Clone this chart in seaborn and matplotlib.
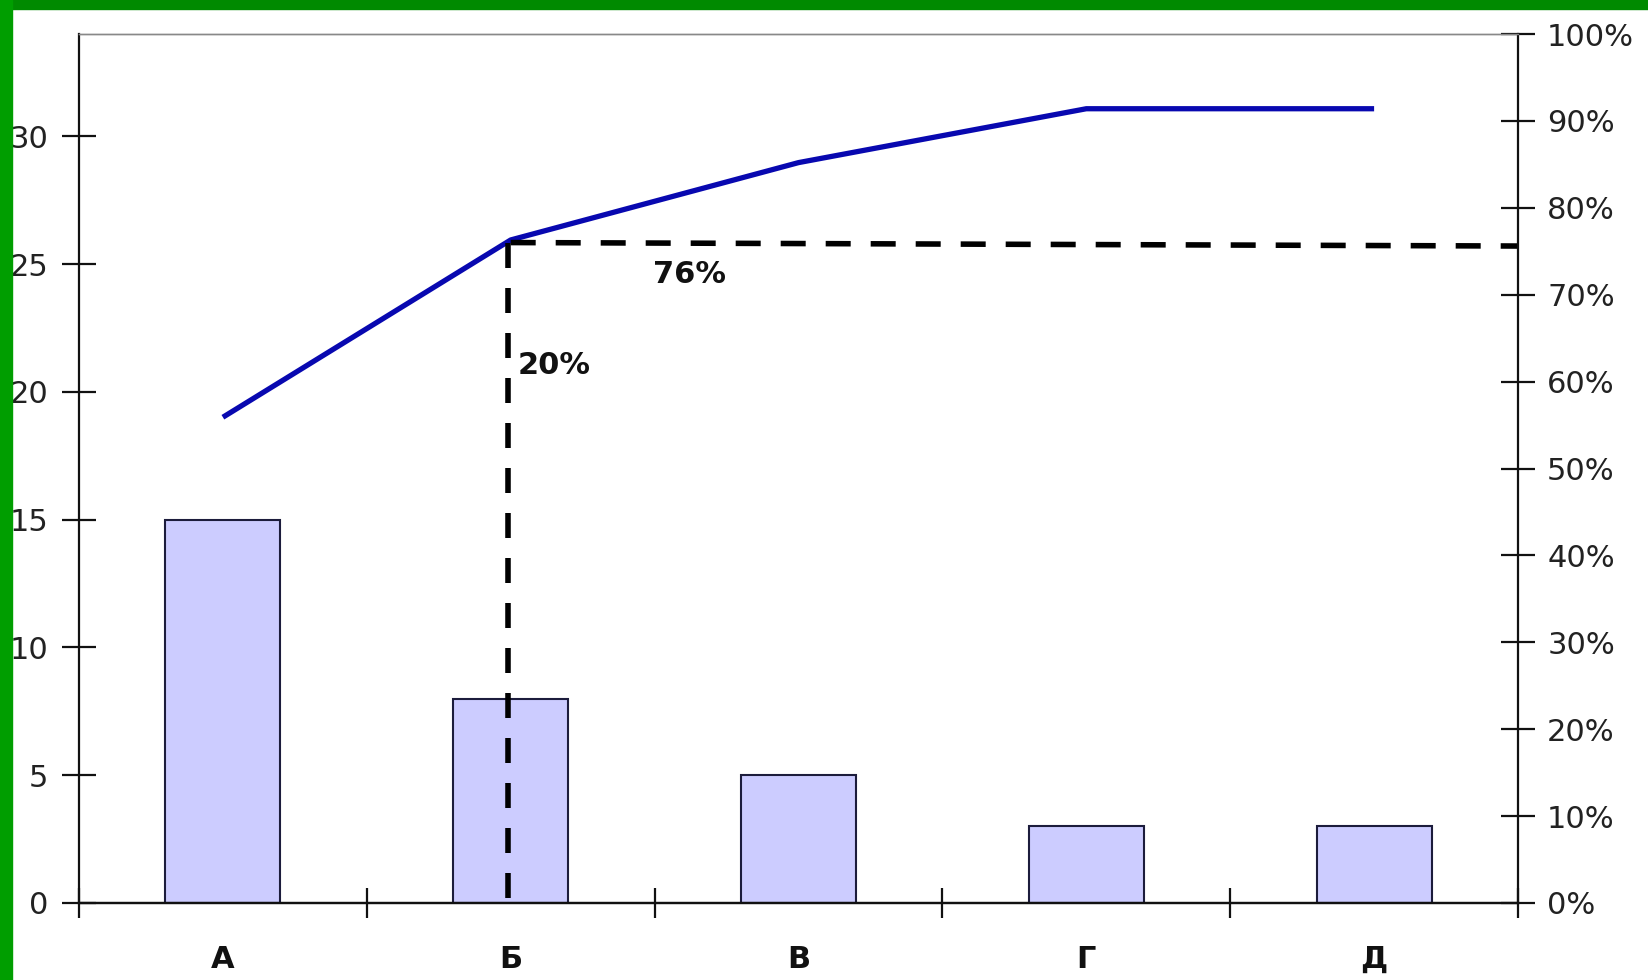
import numpy as np
import pandas as pd
import matplotlib
matplotlib.use("Agg")
import matplotlib.pyplot as plt
from matplotlib.patches import Rectangle
from matplotlib.ticker import FixedLocator, PercentFormatter
import seaborn as sns

categories = ["А", "Б", "В", "Г", "Д"]
counts = [15, 8, 5, 3, 3]
cum_pct = [55.9, 76.3, 85.2, 91.4, 91.4]
left_ticks = [0, 5, 10, 15, 20, 25, 30]
right_ticks = [0, 10, 20, 30, 40, 50, 60, 70, 80, 90, 100]
guide_pct = 76
label_76 = "76%"
label_20 = "20%"

sns.set_theme(style="white")
plt.rcParams["font.family"] = ["DejaVu Sans"]

fig = plt.figure(figsize=(16.48, 9.80), dpi=100)
fig.patch.set_facecolor("white")
ax = fig.add_axes([79 / 1648, 1 - 903 / 980, (1518 - 79) / 1648, (903 - 34) / 980])

df = pd.DataFrame({"cat": categories, "n": counts})
sns.barplot(data=df, x="cat", y="n", ax=ax, color="#CCCCFF", saturation=1,
            width=0.4, edgecolor="#1c1c3c", linewidth=1.5)
ax.set_xlim(-0.5, 4.5)
ax.set_ylim(0, sum(counts))
ax.set_xlabel("")
ax.set_ylabel("")

ax2 = ax.twinx()
x_pos = np.arange(len(categories))
sns.lineplot(x=x_pos, y=cum_pct, ax=ax2, color="#0808b0", linewidth=3.8,
             solid_joinstyle="round", solid_capstyle="butt")
ax2.set_ylim(0, 100)
ax2.set_xlim(-0.5, 4.5)
ax2.set_ylabel("")

# guide lines
ax2.plot([1, 4.5], [guide_pct, guide_pct - 0.4], color="black", linewidth=4,
         dashes=(4.5, 3.6), dash_capstyle="butt", clip_on=False)
ax2.plot([0.99, 0.99], [guide_pct, 0], color="black", linewidth=4,
         dashes=(4.5, 3.6), dash_capstyle="butt")
ax2.text(1.494, 72.3, label_76, fontsize=22, fontweight="bold", ha="left", va="center", color="#111111")
ax2.text(1.025, 61.9, label_20, fontsize=22, fontweight="bold", ha="left", va="center", color="#111111")

# spines
for a in (ax, ax2):
    a.spines["top"].set_color("#888888")
    a.spines["top"].set_linewidth(1.0)
    for s in ("left", "right", "bottom"):
        a.spines[s].set_color("#111111")
        a.spines[s].set_linewidth(1.6)
ax.spines["right"].set_visible(False)
ax2.spines["left"].set_visible(False)

ax.yaxis.set_major_locator(FixedLocator(left_ticks))
ax.tick_params(axis="y", which="major", direction="inout", length=24, width=1.6,
               color="#111111", labelsize=22, labelcolor="#222222", pad=10, left=True)
ax2.yaxis.set_major_locator(FixedLocator(right_ticks))
ax2.yaxis.set_major_formatter(PercentFormatter(decimals=0))
ax2.tick_params(axis="y", which="major", direction="inout", length=24, width=1.6,
                color="#111111", labelsize=22, labelcolor="#222222", pad=9, right=True)

ax.set_xticks(x_pos)
ax.set_xticklabels(categories)
ax.xaxis.set_minor_locator(FixedLocator([-0.5, 0.5, 1.5, 2.5, 3.5, 4.5]))
ax.tick_params(axis="x", which="major", length=0, labelsize=22, pad=30, labelcolor="#111111")
for lbl in ax.get_xticklabels():
    lbl.set_fontweight("bold")
ax.tick_params(axis="x", which="minor", direction="inout", length=22, width=1.6,
               color="#111111", bottom=True)
ax2.tick_params(axis="x", which="both", bottom=False, top=False, labelbottom=False)

ax.set_zorder(1)
ax2.set_zorder(2)
ax2.patch.set_visible(False)

# green frame bands
fig.patches.append(Rectangle((0, 1 - 9 / 980), 1, 9 / 980, transform=fig.transFigure,
                             color="#008a00", zorder=10))
fig.patches.append(Rectangle((0, 0), 12 / 1648, 1, transform=fig.transFigure,
                             color="#009e00", zorder=10))

fig.savefig("out.png", dpi=100)
